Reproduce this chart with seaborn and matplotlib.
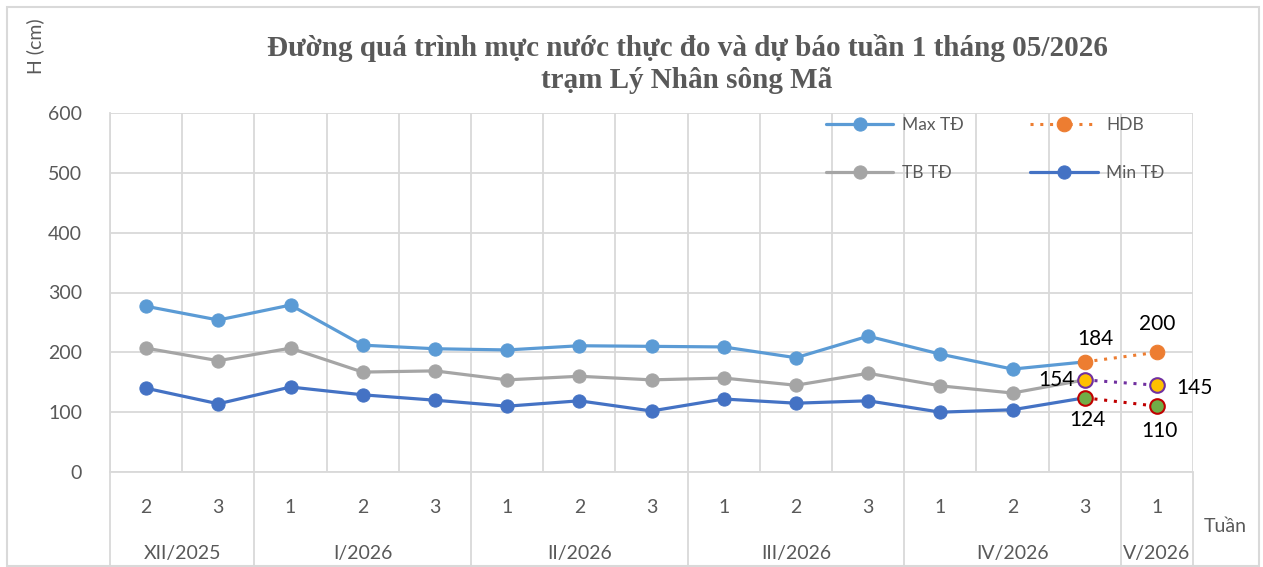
import matplotlib
matplotlib.use("Agg")
import matplotlib.pyplot as plt
import matplotlib.transforms as mtransforms
from matplotlib.patches import Rectangle
import seaborn as sns
import pandas as pd

# ---- data ----
weeks = ["2", "3", "1", "2", "3", "1", "2", "3", "1", "2", "3", "1", "2", "3", "1"]
months = ["XII/2025", "I/2026", "II/2026", "III/2026", "IV/2026", "V/2026"]
month_sizes = [2, 3, 3, 3, 3, 1]
max_td = [277, 254, 279, 212, 206, 204, 211, 210, 209, 191, 227, 197, 172, 184]
tb_td = [207, 186, 207, 167, 169, 154, 160, 154, 157, 145, 165, 144, 132, 154]
min_td = [140, 114, 142, 129, 120, 110, 119, 102, 122, 115, 119, 100, 104, 124]
hdb_max = [184, 200]
hdb_tb = [154, 145]
hdb_min = [124, 110]

title = "Đường quá trình mực nước thực đo và dự báo tuần 1 tháng 05/2026\ntrạm Lý Nhân sông Mã"

sns.set_theme(style="white")
plt.rcParams["font.family"] = ["Lato", "DejaVu Sans"]

W, H = 1263, 567
fig = plt.figure(figsize=(W / 100, H / 100), dpi=100)
ax = fig.add_axes([110 / W, 1 - 472 / H, (1193 - 110) / W, (472 - 113) / H])

n = len(weeks)
x_obs = list(range(len(max_td)))
x_fc = [len(max_td) - 1, len(max_td)]

df = pd.DataFrame({"x": x_obs, "Max TĐ": max_td, "TB TĐ": tb_td, "Min TĐ": min_td})

lw = 2.3
ms = 9.5
c_max, c_tb, c_min = "#5B9BD5", "#A5A5A5", "#4472C4"
tick_fs = 14

# grid
ax.set_xlim(-0.5, n - 0.5)
ax.set_ylim(0, 600)
ax.set_yticks(range(0, 601, 100))
ax.set_xticks([i - 0.5 for i in range(n + 1)])
ax.set_xticklabels([])
ax.grid(True, color="#D9D9D9", linewidth=1.3)
ax.tick_params(axis="x", length=0)
ax.tick_params(axis="y", length=0, labelsize=tick_fs, labelcolor="#595959", pad=20)
for s in ["top", "right", "bottom"]:
    ax.spines[s].set_visible(False)
ax.spines["left"].set_color("#D9D9D9")
ax.spines["left"].set_linewidth(1.3)
ax.set_axisbelow(True)

sns.lineplot(data=df, x="x", y="Max TĐ", ax=ax, color=c_max, lw=lw, marker="o",
             markersize=ms, markeredgecolor=c_max, label="Max TĐ", zorder=3)
sns.lineplot(data=df, x="x", y="TB TĐ", ax=ax, color=c_tb, lw=lw, marker="o",
             markersize=ms, markeredgecolor=c_tb, label="TB TĐ", zorder=3)
sns.lineplot(data=df, x="x", y="Min TĐ", ax=ax, color=c_min, lw=lw, marker="o",
             markersize=ms, markeredgecolor=c_min, label="Min TĐ", zorder=3)

# forecast lines
dfc = pd.DataFrame({"x": x_fc, "max": hdb_max, "tb": hdb_tb, "min": hdb_min})
sns.lineplot(data=dfc, x="x", y="max", ax=ax, color="#ED7D31", lw=2.2, ls=(0, (1, 2.2)),
             marker="o", markersize=ms + 1, markerfacecolor="#ED7D31",
             markeredgecolor="#ED7D31", label="HDB", zorder=4)
sns.lineplot(data=dfc, x="x", y="tb", ax=ax, color="#7030A0", lw=2.2, ls=(0, (1, 2.2)),
             marker="o", markersize=ms + 1, markerfacecolor="#FFC000",
             markeredgecolor="#7030A0", markeredgewidth=1.5, legend=False, zorder=4)
sns.lineplot(data=dfc, x="x", y="min", ax=ax, color="#C00000", lw=2.2, ls=(0, (1, 2.2)),
             marker="o", markersize=ms + 1, markerfacecolor="#70AD47",
             markeredgecolor="#C00000", markeredgewidth=1.5, legend=False, zorder=4)
ax.set_xlabel("")
ax.set_ylabel("")

# value labels
lab_kw = dict(fontsize=15, color="#000000", family=["Lato", "DejaVu Sans"])
ax.annotate(str(hdb_max[0]), (x_fc[0], hdb_max[0]), xytext=(8, 9), textcoords="offset points",
            ha="center", va="bottom", **lab_kw)
ax.annotate(str(hdb_tb[0]), (x_fc[0], hdb_tb[0]), xytext=(-7, 0), textcoords="offset points",
            ha="right", va="center", **lab_kw)
ax.annotate(str(hdb_min[0]), (x_fc[0], hdb_min[0]), xytext=(2, -9), textcoords="offset points",
            ha="center", va="top", **lab_kw)
ax.annotate(str(hdb_max[1]), (x_fc[1], hdb_max[1]), xytext=(0, 13), textcoords="offset points",
            ha="center", va="bottom", **lab_kw)
ax.annotate(str(hdb_tb[1]), (x_fc[1], hdb_tb[1]), xytext=(14, -2), textcoords="offset points",
            ha="left", va="center", **lab_kw)
ax.annotate(str(hdb_min[1]), (x_fc[1], hdb_min[1]), xytext=(2, -11), textcoords="offset points",
            ha="center", va="top", **lab_kw)

# legend
handles, labels = ax.get_legend_handles_labels()
order = [labels.index(k) for k in ["Max TĐ", "TB TĐ", "HDB", "Min TĐ"]]
leg = ax.legend([handles[i] for i in order], [labels[i] for i in order], ncol=2,
                loc="upper left", bbox_to_anchor=((817 - 110) / (1193 - 110), 1.012),
                frameon=False, fontsize=12.5, handlelength=3.9, handletextpad=0.5,
                labelspacing=1.8, columnspacing=3.8, borderaxespad=0.1)
for t in leg.get_texts():
    t.set_color("#595959")

# category axis labels
trans = mtransforms.blended_transform_factory(ax.transData, ax.transAxes)
for i, w in enumerate(weeks):
    ax.text(i, -0.10, w, transform=trans, ha="center", va="center", fontsize=tick_fs,
            color="#595959")
start = 0
bounds = [-0.5]
for m, sz in zip(months, month_sizes):
    center = start + (sz - 1) / 2
    ax.text(center, -0.228, m, transform=trans, ha="center", va="center", fontsize=tick_fs,
            color="#595959", clip_on=False)
    start += sz
    bounds.append(start - 0.5)
ax.plot([-0.5, n - 0.5], [0, 0], color="#D9D9D9", lw=1.3, transform=trans, clip_on=False)
for b in bounds:
    ax.plot([b, b], [0, -0.27], color="#D9D9D9", lw=1.3, transform=trans, clip_on=False)

fig.text(1225 / W, 1 - 527 / H, "Tuần", ha="center", va="center", fontsize=14, color="#595959")
fig.text(35 / W, 1 - 46 / H, "H (cm)", rotation=90, ha="center", va="center",
         fontsize=14, color="#595959")

fig.text(687 / W, 1 - 64 / H, title, ha="center", va="center", fontsize=21,
         fontweight="bold", color="#595959", family=["Liberation Serif", "DejaVu Serif"],
         linespacing=1.28)

# outer chart frame
fig.patches.append(Rectangle((7 / W, 1 - 566 / H), (1259 - 7) / W, (566 - 7) / H,
                             transform=fig.transFigure, fill=False, edgecolor="#D9D9D9",
                             lw=1.5))

fig.savefig("out.png", dpi=100)
